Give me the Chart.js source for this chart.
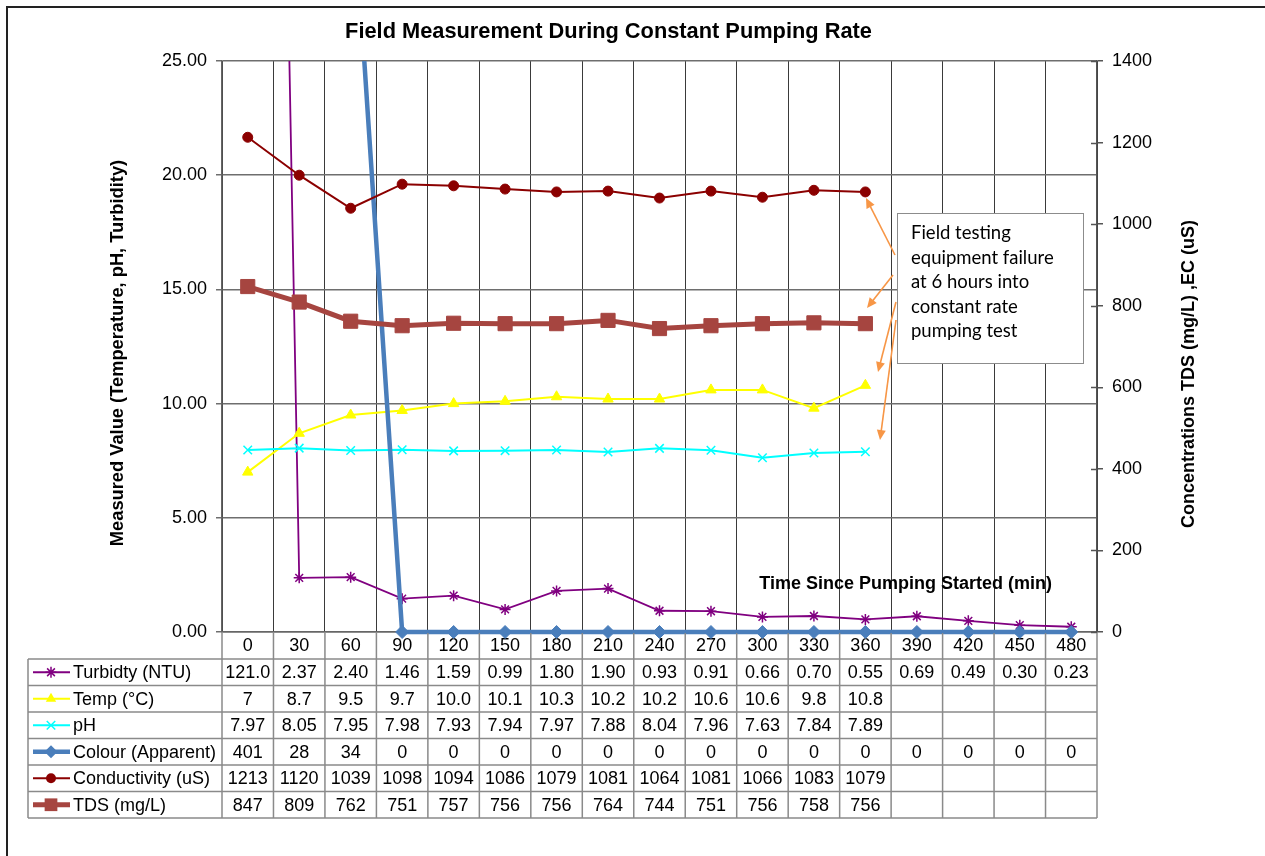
<!DOCTYPE html>
<html>
<head>
<meta charset="utf-8">
<script src="https://cdn.jsdelivr.net/npm/chart.js@4.4.0/dist/chart.umd.min.js"></script>
<style>
  html, body { margin: 0; padding: 0; background: #fff; }
  #wrap { width: 1265px; height: 856px; }
</style>
</head>
<body>
<div id="wrap"><canvas id="c" width="1265" height="856"></canvas></div>
<script>
// ---------------- DATA ----------------
const categories = [0, 30, 60, 90, 120, 150, 180, 210, 240, 270, 300, 330, 360, 390, 420, 450, 480];
const turbidity = [121.0, 2.37, 2.40, 1.46, 1.59, 0.99, 1.80, 1.90, 0.93, 0.91, 0.66, 0.70, 0.55, 0.69, 0.49, 0.30, 0.23];
const temperature = [7, 8.7, 9.5, 9.7, 10.0, 10.1, 10.3, 10.2, 10.2, 10.6, 10.6, 9.8, 10.8, null, null, null, null];
const ph = [7.97, 8.05, 7.95, 7.98, 7.93, 7.94, 7.97, 7.88, 8.04, 7.96, 7.63, 7.84, 7.89, null, null, null, null];
const colour = [401, 28, 34, 0, 0, 0, 0, 0, 0, 0, 0, 0, 0, 0, 0, 0, 0];
const conductivity = [1213, 1120, 1039, 1098, 1094, 1086, 1079, 1081, 1064, 1081, 1066, 1083, 1079, null, null, null, null];
const tds = [847, 809, 762, 751, 757, 756, 756, 764, 744, 751, 756, 758, 756, null, null, null, null];
const leftTicks = [0, 5, 10, 15, 20, 25];
const rightTicks = [0, 200, 400, 600, 800, 1000, 1200, 1400];

const titleText = 'Field Measurement During Constant Pumping Rate';
const leftTitle = 'Measured Value (Temperature, pH, Turbidity)';
const rightTitle = 'Concentrations TDS (mg/L) ,EC (uS)';
const xTitle = 'Time Since Pumping Started (min)';
const noteLines = ['Field testing', 'equipment failure', 'at 6 hours into', 'constant rate', 'pumping test'];

// ---------------- STYLE ----------------
const FONT = "'Liberation Sans', Arial, sans-serif";
Chart.defaults.font.family = FONT;
Chart.defaults.color = '#000';

const series = [
  { label: 'Turbidty (NTU)', data: turbidity, axis: 'y', color: '#800080', lw: 1.8, style: 'star', r: 5.5, fill: false, order: 5,
    fmt: v => v >= 100 ? v.toFixed(1) : v.toFixed(2) },
  { label: 'Temp (°C)', data: temperature, axis: 'y', color: '#FFFF00', lw: 2, style: 'triangle', r: 6, fill: true, order: 4,
    fmt: (v, i) => i === 0 ? v.toFixed(0) : v.toFixed(1) },
  { label: 'pH', data: ph, axis: 'y', color: '#00FFFF', lw: 2, style: 'crossRot', r: 6, fill: false, order: 3,
    fmt: v => v.toFixed(2) },
  { label: 'Colour (Apparent)', data: colour, axis: 'y', color: '#4A7EBB', lw: 4.5, style: 'rectRot', r: 6.5, fill: true, order: 2,
    fmt: v => String(v) },
  { label: 'Conductivity (uS)', data: conductivity, axis: 'y1', color: '#8B0000', lw: 2, style: 'circle', r: 5, fill: true, order: 1,
    fmt: v => String(v) },
  { label: 'TDS (mg/L)', data: tds, axis: 'y1', color: '#A64540', lw: 5, style: 'rect', r: 10, fill: true, order: 0,
    fmt: v => String(v) }
];

function drawMarker(ctx, style, x, y, r, color, lw) {
  ctx.save();
  ctx.fillStyle = color;
  ctx.strokeStyle = color;
  ctx.lineWidth = lw || 1.5;
  ctx.beginPath();
  if (style === 'circle') {
    ctx.arc(x, y, r, 0, Math.PI * 2); ctx.fill();
  } else if (style === 'rect') {
    const s = Math.SQRT1_2 * r; ctx.rect(x - s, y - s, 2 * s, 2 * s); ctx.fill();
  } else if (style === 'rectRot') {
    ctx.moveTo(x - r, y); ctx.lineTo(x, y - r); ctx.lineTo(x + r, y); ctx.lineTo(x, y + r); ctx.closePath(); ctx.fill();
  } else if (style === 'triangle') {
    const w = r * Math.sqrt(3) / 2;
    ctx.moveTo(x, y - r); ctx.lineTo(x + w, y + r / 2); ctx.lineTo(x - w, y + r / 2); ctx.closePath(); ctx.fill();
  } else if (style === 'crossRot' || style === 'star') {
    const d = Math.SQRT1_2 * r;
    ctx.moveTo(x - d, y - d); ctx.lineTo(x + d, y + d);
    ctx.moveTo(x - d, y + d); ctx.lineTo(x + d, y - d);
    if (style === 'star') { ctx.moveTo(x, y - r); ctx.lineTo(x, y + r); ctx.moveTo(x - r, y); ctx.lineTo(x + r, y); }
    ctx.stroke();
  }
  ctx.restore();
}

function arrow(ctx, x1, y1, x2, y2) {
  const a = Math.atan2(y2 - y1, x2 - x1);
  const L = 10, W = 4.5;
  ctx.beginPath();
  ctx.moveTo(x1, y1);
  ctx.lineTo(x2 - Math.cos(a) * L * 0.8, y2 - Math.sin(a) * L * 0.8);
  ctx.stroke();
  ctx.beginPath();
  ctx.moveTo(x2, y2);
  ctx.lineTo(x2 - Math.cos(a) * L + Math.sin(a) * W, y2 - Math.sin(a) * L - Math.cos(a) * W);
  ctx.lineTo(x2 - Math.cos(a) * L - Math.sin(a) * W, y2 - Math.sin(a) * L + Math.cos(a) * W);
  ctx.closePath();
  ctx.fill();
}

const HEADER_H = 27;
const ROW_H = 26.5;
const LEGEND_LEFT = 28;

const extrasPlugin = {
  id: 'extras',
  afterDraw(chart) {
    const ctx = chart.ctx;
    const area = chart.chartArea;
    const xs = chart.scales.x;
    const y1 = chart.scales.y1;
    const step = xs.getPixelForValue(1) - xs.getPixelForValue(0);
    const bounds = categories.map((c, i) => xs.getPixelForValue(i) - step / 2);
    bounds.push(xs.getPixelForValue(categories.length - 1) + step / 2);
    const tableTop = area.bottom + HEADER_H;
    const tableBottom = tableTop + ROW_H * series.length;

    ctx.save();
    // outer frame (partly outside picture)
    ctx.strokeStyle = '#222';
    ctx.lineWidth = 2;
    ctx.beginPath();
    ctx.moveTo(7, 856); ctx.lineTo(7, 7); ctx.lineTo(1265, 7);
    ctx.stroke();

    // inner half of right-axis tick marks (Excel "cross" ticks)
    ctx.strokeStyle = '#555';
    ctx.lineWidth = 1.5;
    ctx.beginPath();
    rightTicks.forEach(v => {
      const y = Math.round(y1.getPixelForValue(v)) + 0.5;
      ctx.moveTo(area.right - 6, y); ctx.lineTo(area.right, y);
    });
    ctx.stroke();

    // table grid
    ctx.strokeStyle = '#8a8a8a';
    ctx.lineWidth = 1.5;
    ctx.beginPath();
    for (let k = 0; k <= series.length; k++) {
      const y = tableTop + k * ROW_H;
      ctx.moveTo(LEGEND_LEFT, y); ctx.lineTo(area.right, y);
    }
    ctx.moveTo(LEGEND_LEFT, tableTop); ctx.lineTo(LEGEND_LEFT, tableBottom);
    bounds.forEach(b => { ctx.moveTo(b, area.bottom + 1); ctx.lineTo(b, tableBottom); });
    ctx.stroke();

    // table contents
    ctx.font = '18px ' + FONT;
    ctx.textBaseline = 'middle';
    series.forEach((s, r) => {
      const yc = tableTop + (r + 0.5) * ROW_H;
      ctx.save();
      ctx.strokeStyle = s.color; ctx.lineWidth = s.lw;
      ctx.beginPath(); ctx.moveTo(33, yc); ctx.lineTo(70, yc); ctx.stroke();
      ctx.restore();
      drawMarker(ctx, s.style, 51, yc, s.style === 'rect' ? 9 : s.r, s.color, 1.5);
      ctx.fillStyle = '#000';
      ctx.textAlign = 'left';
      ctx.fillText(s.label, 73, yc + 1);
      ctx.textAlign = 'center';
      s.data.forEach((v, i) => {
        if (v === null || v === undefined) return;
        ctx.fillText(s.fmt(v, i), xs.getPixelForValue(i), yc + 1);
      });
    });

    // chart title
    ctx.fillStyle = '#000';
    ctx.font = 'bold 21.8px ' + FONT;
    ctx.textAlign = 'center';
    ctx.fillText(titleText, 608.5, 32);

    // left axis title
    ctx.save();
    ctx.font = 'bold 18.3px ' + FONT;
    ctx.translate(118, 353);
    ctx.rotate(-Math.PI / 2);
    ctx.textAlign = 'center';
    ctx.fillText(leftTitle, 0, 0);
    ctx.restore();

    // right axis title (reads bottom to top)
    ctx.save();
    ctx.font = 'bold 18px ' + FONT;
    ctx.translate(1189, 374);
    ctx.rotate(-Math.PI / 2);
    ctx.textAlign = 'center';
    ctx.fillText(rightTitle, 0, 0);
    ctx.restore();

    // x axis title inside plot
    ctx.font = 'bold 18px ' + FONT;
    ctx.textAlign = 'right';
    ctx.fillText(xTitle, 1052, 584);

    // annotation arrows
    ctx.strokeStyle = '#F79646';
    ctx.fillStyle = '#F79646';
    ctx.lineWidth = 1.6;
    arrow(ctx, 895, 255, 866, 198);
    arrow(ctx, 893, 275, 867, 308);
    arrow(ctx, 896, 302, 878, 372);
    arrow(ctx, 896, 320, 880, 440);

    // annotation box
    ctx.fillStyle = '#fff';
    ctx.fillRect(897, 213, 186, 150);
    ctx.strokeStyle = '#8c8c8c';
    ctx.lineWidth = 1;
    ctx.strokeRect(897.5, 213.5, 186, 150);
    ctx.fillStyle = '#000';
    ctx.font = "18.5px Lato, 'Open Sans', sans-serif";
    ctx.textAlign = 'left';
    ctx.textBaseline = 'alphabetic';
    noteLines.forEach((t, i) => ctx.fillText(t, 911, 239 + i * 24.5));
    ctx.restore();
  }
};

const datasets = series.map(s => ({
  label: s.label,
  data: s.data,
  yAxisID: s.axis,
  borderColor: s.color,
  backgroundColor: s.color,
  borderWidth: s.lw,
  pointStyle: s.style,
  pointRadius: s.r,
  pointBorderWidth: s.fill ? 1 : 1.5,
  pointBorderColor: s.color,
  pointBackgroundColor: s.color,
  tension: 0,
  spanGaps: false,
  order: s.order,
  clip: { left: 12, right: 12, top: 0, bottom: 12 }
}));

new Chart(document.getElementById('c'), {
  type: 'line',
  data: { labels: categories.map(String), datasets },
  options: {
    responsive: false,
    animation: false,
    events: [],
    layout: { padding: { left: 0, right: 0, top: 61, bottom: 856 - 632 - HEADER_H } },
    plugins: { legend: { display: false }, title: { display: false }, tooltip: { enabled: false } },
    scales: {
      x: {
        type: 'category',
        offset: true,
        grid: { offset: true, color: '#3a3a3a', lineWidth: 1, drawTicks: false },
        border: { display: true, color: '#666', width: 1.5 },
        ticks: { font: { size: 18 }, color: '#000', padding: 3, autoSkip: false, maxRotation: 0 },
        afterFit(s) { s.height = HEADER_H; }
      },
      y: {
        position: 'left',
        min: leftTicks[0],
        max: leftTicks[leftTicks.length - 1],
        afterBuildTicks(s) { s.ticks = leftTicks.map(v => ({ value: v })); },
        ticks: { font: { size: 18 }, color: '#000', padding: 9, callback: v => Number(v).toFixed(2) },
        grid: { color: '#6e6e6e', lineWidth: 1.5, tickLength: 6 },
        border: { color: '#666', width: 1.5 },
        title: { display: false },
        afterFit(s) { s.width = 222; }
      },
      y1: {
        position: 'right',
        min: rightTicks[0],
        max: rightTicks[rightTicks.length - 1],
        afterBuildTicks(s) { s.ticks = rightTicks.map(v => ({ value: v })); },
        ticks: { font: { size: 18 }, color: '#000', padding: 9, callback: v => String(v) },
        grid: { drawOnChartArea: false, color: '#555', lineWidth: 1.5, tickLength: 6 },
        border: { color: '#555', width: 1.5 },
        afterFit(s) { s.width = 1265 - 1097; }
      }
    }
  },
  plugins: [extrasPlugin]
});
</script>
</body>
</html>
